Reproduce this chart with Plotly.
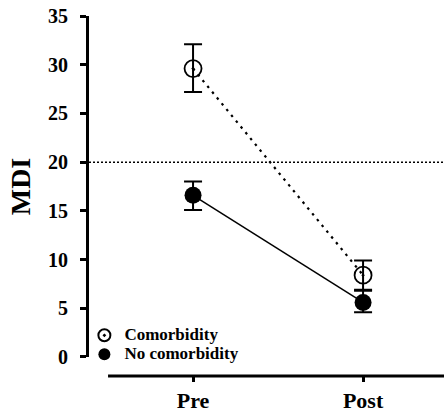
import plotly.graph_objects as go

categories = ["Pre", "Post"]
x_pos = [0, 1]
comorb_mean = [29.6, 8.4]
comorb_upper = [2.5, 1.5]
comorb_lower = [2.4, 1.5]
nocomorb_mean = [16.6, 5.6]
nocomorb_upper = [1.4, 1.2]
nocomorb_lower = [1.5, 1.0]
reference_value = 20
y_ticks = [0, 5, 10, 15, 20, 25, 30, 35]

FONT = "Liberation Serif"

fig = go.Figure()

fig.add_trace(go.Scatter(
    x=x_pos, y=comorb_mean, name="Comorbidity", mode="lines+markers", showlegend=False,
    line=dict(color="black", width=2.2, dash="2.5px,5px"),
    marker=dict(symbol="circle-open-dot", size=17, color="black", line=dict(width=1.8)),
    error_y=dict(type="data", symmetric=False, array=comorb_upper, arrayminus=comorb_lower,
                 color="black", thickness=2, width=9),
))
fig.add_trace(go.Scatter(
    x=x_pos, y=nocomorb_mean, name="No comorbidity", mode="lines+markers", showlegend=False,
    line=dict(color="black", width=1.5),
    marker=dict(symbol="circle", size=17, color="black"),
    error_y=dict(type="data", symmetric=False, array=nocomorb_upper, arrayminus=nocomorb_lower,
                 color="black", thickness=2, width=9),
))
# legend entries (markers only)
fig.add_trace(go.Scatter(
    x=[None], y=[None], name='<span style="font-size:17px"><b>Comorbidity</b></span>', mode="markers",
    marker=dict(symbol="circle-open-dot", size=15, color="black", line=dict(width=1.8)),
))
fig.add_trace(go.Scatter(
    x=[None], y=[None], name='<span style="font-size:17px"><b>No comorbidity</b></span>', mode="markers",
    marker=dict(symbol="circle", size=15, color="black"),
))

# reference line at MDI = 20
fig.add_shape(type="line", xref="paper", yref="y", x0=0, x1=1,
              y0=reference_value, y1=reference_value,
              line=dict(color="black", width=1.5, dash="2px,2px"), layer="below")
# detached x axis line
fig.add_shape(type="line", xref="x", yref="paper", x0=-0.5, x1=1.48, y0=0, y1=0,
              line=dict(color="black", width=3))

fig.update_layout(
    width=444, height=414,
    margin=dict(l=89, r=0, t=16, b=38, autoexpand=False),
    plot_bgcolor="white", paper_bgcolor="white",
    font=dict(family=FONT, color="black"),
    showlegend=True,
    legend=dict(x=-0.013, y=0.02, xanchor="left", yanchor="bottom",
                bgcolor="rgba(0,0,0,0)", font=dict(family=FONT, size=11, color="black"),
                itemsizing="constant", tracegroupgap=0),
    xaxis=dict(range=[-0.612, 1.476], tickvals=x_pos, ticktext=["<b>%s</b>" % c for c in categories],
               anchor="free", position=0, showline=False, showgrid=False, zeroline=False,
               automargin=False, ticklabeloverflow="allow",
               ticks="outside", ticklen=5, tickwidth=2.5, tickcolor="black",
               ticklabelstandoff=0,
               tickfont=dict(family=FONT, size=22, color="black")),
    yaxis=dict(range=[0, 35], domain=[0.0528, 1], tickvals=y_ticks,
               ticktext=["<b>%d</b>" % v for v in y_ticks],
               showline=True, linewidth=3, linecolor="black", showgrid=False, zeroline=False,
               automargin=False, ticklabeloverflow="allow",
               ticks="outside", ticklen=6, tickwidth=2.5, tickcolor="black",
               ticklabelstandoff=8,
               tickfont=dict(family=FONT, size=20, color="black"),
               title=dict(text="<b>MDI</b>", font=dict(family=FONT, size=28, color="black"), standoff=10)),
)

fig.write_html("out.html", config={"displayModeBar": False},
               post_script="document.body.style.margin='0px';")
